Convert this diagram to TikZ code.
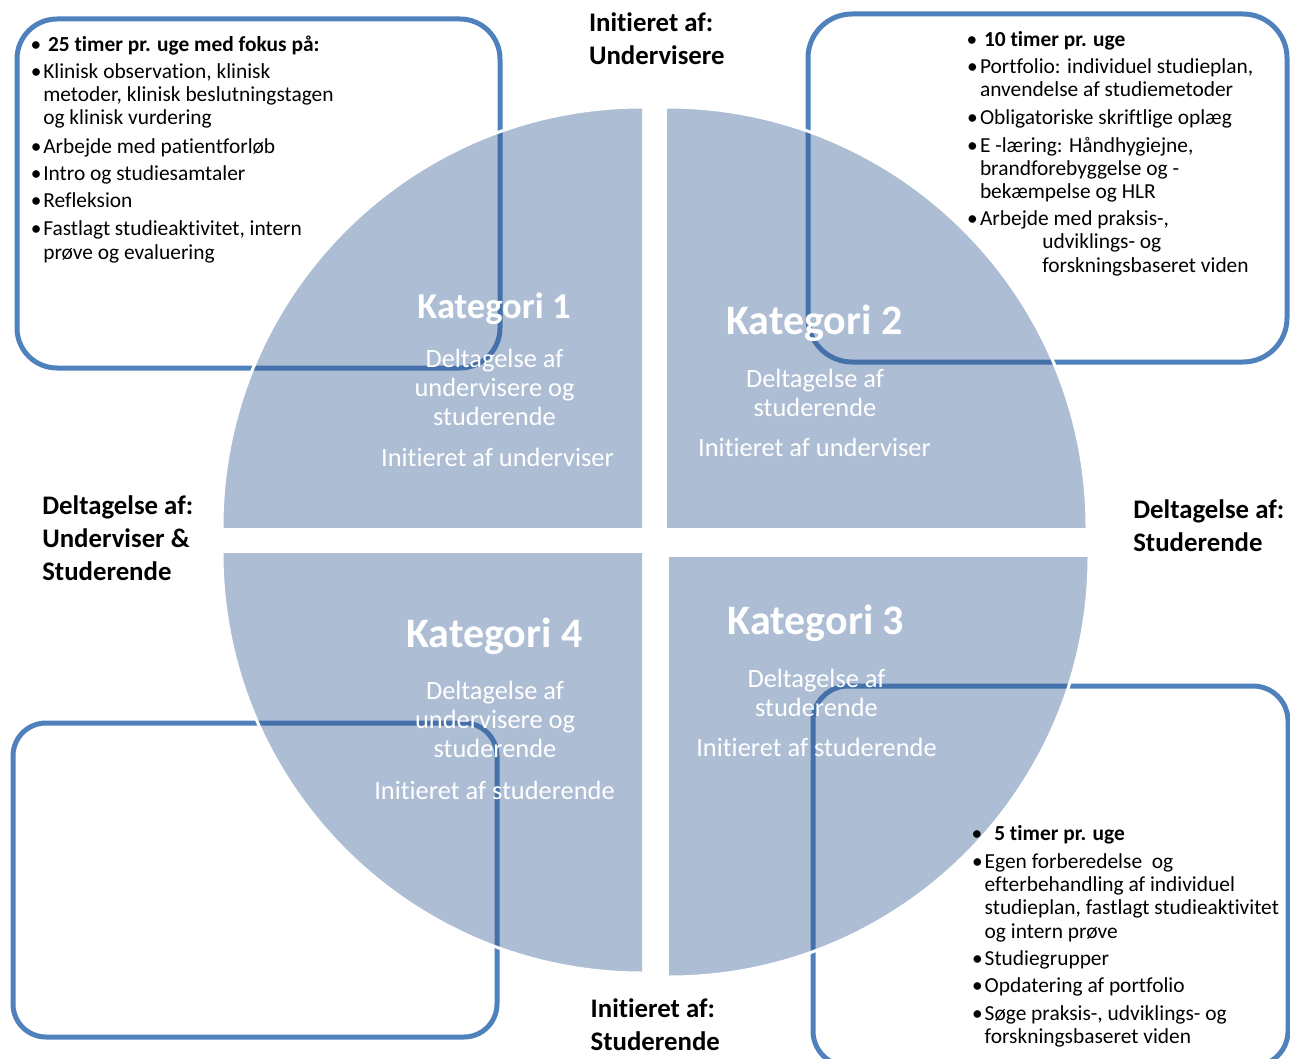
\documentclass[tikz,border=0pt]{standalone}
\usepackage{fontspec}
\setmainfont{Carlito}[Ligatures={NoCommon,NoRare}]
\definecolor{quadfill}{HTML}{ADBED4}
\definecolor{boxline}{HTML}{4F81BD}
\definecolor{boxdark}{HTML}{4571AA}
\newcommand\cl[1]{\hbox to 0pt{\hss#1\hss}}
\newcommand\mydrawboxes[1]{%
  \draw[#1, line width=5pt, rounded corners=40pt] (17,19) rectangle (500,368);
  \draw[#1, line width=5pt, rounded corners=44pt] (808,14) rectangle (1287,362);
  \draw[#1, line width=5pt, rounded corners=35pt] (813,686) rectangle (1288,1066);
  \draw[#1, line width=5pt, rounded corners=33pt] (13,723) rectangle (497,1037);
}
\newcommand\myquadfill[4]{%
  \begin{scope}
    \clip (#1,#2) rectangle (#3,#4);
    \fill[quadfill] (#1,#2) circle[radius=420];
  \end{scope}}
\newcommand\myquaddark[4]{%
  \begin{scope}
    \clip (#1,#2) rectangle (#3,#4);
    \clip (#1,#2) circle[radius=420];
    \mydrawboxes{boxdark}
  \end{scope}}
\newcommand\myquadedge[4]{%
  \begin{scope}
    \clip (#1,#2) rectangle (#3,#4);
    \draw[white, line width=3pt] (#1,#2) circle[radius=420];
  \end{scope}}
\tikzset{
  every node/.style={inner sep=0pt, outer sep=0pt},
  body/.style={anchor=base west, font=\fontsize{21.4}{23.3}\selectfont},
  hd/.style={anchor=base west, font=\bfseries\fontsize{21.4}{23.3}\selectfont},
  bul/.style={anchor=base, font=\fontsize{21.4}{23.3}\selectfont},
  lab/.style={anchor=base west, font=\bfseries\fontsize{26.8}{33}\selectfont},
  kat/.style={anchor=base, text=white, font=\bfseries\fontsize{42}{46}\selectfont},
  katsmall/.style={anchor=base, text=white, font=\bfseries\fontsize{36.5}{40}\selectfont},
  qbody/.style={anchor=base west, text=white, font=\fontsize{26.4}{29.3}\selectfont},
}
\begin{document}
\begin{tikzpicture}[x=1pt, y=-1pt]
\useasboundingbox (0,0) rectangle (1290,1059);
% boxes
\mydrawboxes{boxline}
% quadrants
\myquadfill{642}{527}{222}{107}
\myquadfill{667}{527}{1087}{107}
\myquadfill{669}{557}{1089}{977}
\myquadfill{642}{553}{222}{973}
\myquaddark{642}{527}{222}{107}
\myquaddark{667}{527}{1087}{107}
\myquaddark{669}{557}{1089}{977}
\myquaddark{642}{553}{222}{973}
\myquadedge{642}{527}{222}{107}
\myquadedge{667}{527}{1087}{107}
\myquadedge{669}{557}{1089}{977}
\myquadedge{642}{553}{222}{973}
% outside labels
\node[lab] (ltop) at (589,32) {\vtop{\hbox{Initieret af:}\hbox{Undervisere}}};
\node[lab] (lleft) at (42.3,514) {\vtop{\hbox{Deltagelse af:}\hbox{Underviser \&}\hbox{Studerende}}};
\node[lab] (lright) at (1133.3,518.7) {\vtop{\hbox{Deltagelse af:}\hbox{Studerende}}};
\node[lab] (lbot) at (590.7,1017) {\vtop{\hbox{Initieret af:}\hbox{Studerende}}};
% quadrant texts
\node[katsmall] (k1) at (494,318.5) {Kategori 1};
\node[qbody] (k1a) at (494,367) {\vtop{\cl{Deltagelse af}\cl{undervisere og}\cl{studerende}}};
\node[qbody] (k1b) at (497,466) {\cl{Initieret af underviser}};
\node[kat] (k2) at (814.5,334.5) {Kategori 2};
\node[qbody] (k2a) at (814.5,387) {\vtop{\cl{Deltagelse af}\cl{studerende}}};
\node[qbody] (k2b) at (814,456) {\cl{Initieret af underviser}};
\node[kat] (k3) at (816,634.5) {Kategori 3};
\node[qbody] (k3a) at (816,687) {\vtop{\cl{Deltagelse af}\cl{studerende}}};
\node[qbody] (k3b) at (816,756) {\cl{Initieret af studerende}};
\node[kat] (k4) at (494.5,647.5) {Kategori 4};
\node[qbody] (k4a) at (494.5,699) {\vtop{\cl{Deltagelse af}\cl{undervisere og}\cl{studerende}}};
\node[qbody] (k4b) at (494,799) {\cl{Initieret af studerende}};
% box 1 text
\node[bul] (b1hb) at (36,51.5) {•};
\node[hd] (b1h) at (48,51.5) {25 timer pr. uge med fokus på:};
\node[bul] (b1b1) at (36.3,78.3) {•};
\node[body] (b1t1) at (43.3,78.3) {\vtop{\hbox{Klinisk observation, klinisk}\hbox{metoder, klinisk beslutningstagen}\hbox{og klinisk vurdering}}};
\node[bul] (b1b2) at (36.3,153.7) {•};
\node[body] (b1t2) at (43.3,153.7) {Arbejde med patientforløb};
\node[bul] (b1b3) at (36.3,181) {•};
\node[body] (b1t3) at (43.3,181) {Intro og studiesamtaler};
\node[bul] (b1b4) at (36.3,207.7) {•};
\node[body] (b1t4) at (43.3,207.7) {Refleksion};
\node[bul] (b1b5) at (36.3,236) {•};
\node[body] (b1t5) at (43.3,236) {\vtop{\hbox{Fastlagt studieaktivitet, intern}\hbox{prøve og evaluering}}};
% box 2 text
\node[bul] (b2hb) at (972,46.5) {•};
\node[hd] (b2h) at (984,46.5) {10 timer pr. uge};
\node[bul] (b2b1) at (972.5,73.2) {•};
\node[body] (b2t1) at (980,73.2) {\vtop{\hbox{Portfolio: individuel studieplan,}\hbox{anvendelse af studiemetoder}}};
\node[bul] (b2b2) at (972.5,124.5) {•};
\node[body] (b2t2) at (980,124.5) {Obligatoriske skriftlige oplæg};
\node[bul] (b2b3) at (972.5,152.2) {•};
\node[body] (b2t3) at (980,152.2) {\vtop{\hbox{E -læring: Håndhygiejne,}\hbox{brandforebyggelse og -}\hbox{bekæmpelse og HLR}}};
\node[bul] (b2b4) at (972.5,225.5) {•};
\node[body] (b2t4) at (980,225.5) {\vtop{\hbox{Arbejde med praksis-,}\hbox{\kern62.3pt udviklings- og}\hbox{\kern62.3pt forskningsbaseret viden}}};
% box 3 text
\node[bul] (b3hb) at (977,840.5) {•};
\node[hd] (b3h) at (994.3,840.5) {5 timer pr. uge};
\node[bul] (b3b1) at (977.5,868.2) {•};
\node[body] (b3t1) at (984.7,868.2) {\vtop{\hbox{Egen forberedelse\ \ og}\hbox{efterbehandling af individuel}\hbox{studieplan, fastlagt studieaktivitet}\hbox{og intern prøve}}};
\node[bul] (b3b2) at (977.5,965.5) {•};
\node[body] (b3t2) at (984.7,965.5) {Studiegrupper};
\node[bul] (b3b3) at (977.5,992.2) {•};
\node[body] (b3t3) at (984.7,992.2) {Opdatering af portfolio};
\node[bul] (b3b4) at (977.5,1020.5) {•};
\node[body] (b3t4) at (984.7,1020.5) {\vtop{\hbox{Søge praksis-, udviklings- og}\hbox{forskningsbaseret viden}}};
\end{tikzpicture}
\end{document}
